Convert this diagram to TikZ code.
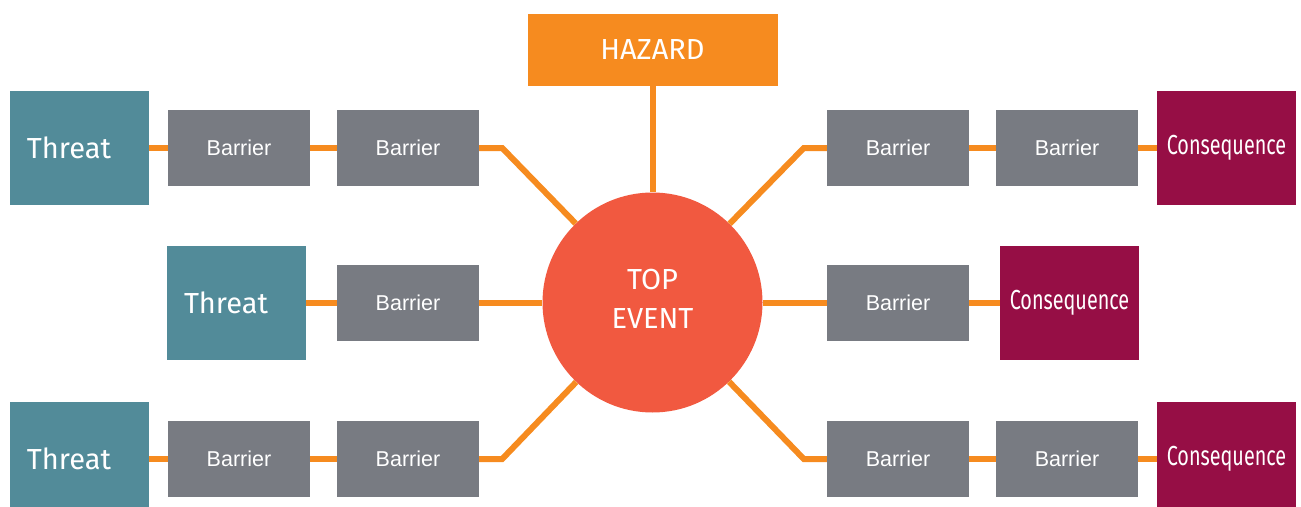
\documentclass[tikz,border=0pt]{standalone}
\usepackage{fontspec}
\setmainfont{Liberation Sans}
\newfontfamily\dinfont{Fira Sans}
\newfontfamily\dincond[FakeStretch=0.72]{Fira Sans}
\usetikzlibrary{positioning}
\definecolor{threatteal}{RGB}{82,139,153}
\definecolor{barriergray}{RGB}{120,123,130}
\definecolor{linkorange}{RGB}{246,139,31}
\definecolor{topred}{RGB}{241,89,64}
\definecolor{conswine}{RGB}{150,14,69}

\begin{document}
\begin{tikzpicture}[x=1pt,y=-1pt,
  threat/.style={fill=threatteal,text=white,minimum width=139pt,minimum height=114pt,
    inner sep=0pt,text width=105pt,align=left,font=\dinfont\fontsize{29}{30}\selectfont},
  barrier/.style={fill=barriergray,text=white,minimum width=142pt,minimum height=76pt,
    inner sep=0pt,font=\fontsize{21.5}{24}\selectfont},
  conseq/.style={fill=conswine,text=white,minimum width=139pt,minimum height=114pt,
    inner sep=0pt,font=\dincond\fontsize{27.5}{30}\selectfont},
  link/.style={linkorange,line width=6pt}]
  \path[use as bounding box,clip] (0,0) rectangle (1301,506);
  % centre
  \node[fill=linkorange,text=white,minimum width=250pt,minimum height=72pt,inner sep=0pt,
    font=\dinfont\fontsize{29}{30}\selectfont] (hazard) at (652.5,50) {HAZARD};
  \node[circle,fill=topred,minimum size=220pt,inner sep=0pt,
    label={[yshift=4pt,text=white,align=center,font=\dinfont\fontsize{29}{39}\selectfont]center:TOP\\EVENT}]
    (top) at (652.5,302.5) {};
  % threats
  \node[threat] (t1) at (79.5,148) {Threat};
  \node[threat] (t2) at (236.5,302.5) {Threat};
  \node[threat] (t3) at (79.5,459) {Threat};
  \node[barrier] (b11) at (239,148) {Barrier};
  \node[barrier] (b12) at (408,148) {Barrier};
  \node[barrier] (b21) at (408,302.5) {Barrier};
  \node[barrier] (b31) at (239,459) {Barrier};
  \node[barrier] (b32) at (408,459) {Barrier};
  % consequences
  \node[barrier] (c11) at (898,148) {Barrier};
  \node[barrier] (c12) at (1067,148) {Barrier};
  \node[barrier] (c21) at (898,302.5) {Barrier};
  \node[barrier] (c31) at (898,459) {Barrier};
  \node[barrier] (c32) at (1067,459) {Barrier};
  \node[conseq] (k1) at (1226.5,148) {Consequence};
  \node[conseq] (k2) at (1069.5,302.5) {Consequence};
  \node[conseq] (k3) at (1226.5,459) {Consequence};
  % links
  \draw[link] (hazard) -- (top);
  \draw[link] (t1) -- (b11);
  \draw[link] (b11) -- (b12);
  \draw[link] (b12.east) -- ++(23,0) -- (top);
  \draw[link] (t2) -- (b21);
  \draw[link] (b21) -- (top);
  \draw[link] (t3) -- (b31);
  \draw[link] (b31) -- (b32);
  \draw[link] (b32.east) -- ++(23,0) -- (top);
  \draw[link] (c11.west) -- ++(-23,0) -- (top);
  \draw[link] (c11) -- (c12);
  \draw[link] (c12) -- (k1);
  \draw[link] (c21) -- (top);
  \draw[link] (c21) -- (k2);
  \draw[link] (c31.west) -- ++(-23,0) -- (top);
  \draw[link] (c31) -- (c32);
  \draw[link] (c32) -- (k3);
\end{tikzpicture}
\end{document}
